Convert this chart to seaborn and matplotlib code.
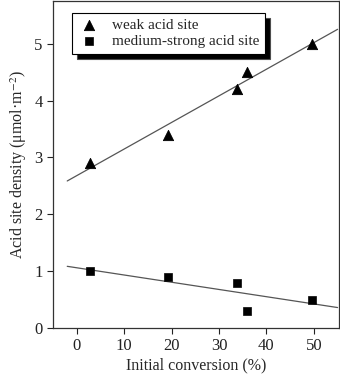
import numpy as np
import pandas as pd
import matplotlib
matplotlib.use("Agg")
import matplotlib.pyplot as plt
from matplotlib.patches import Shadow
import seaborn as sns

conversion = [2.7, 19.3, 33.7, 35.9, 49.6]
weak_density = [2.9, 3.4, 4.2, 4.5, 5.0]
medium_density = [1.0, 0.9, 0.8, 0.3, 0.5]

x_ticks = [0, 10, 20, 30, 40, 50]
y_ticks = [0, 1, 2, 3, 4, 5]

sns.set_style("ticks")
plt.rcParams["font.family"] = ["Liberation Serif", "DejaVu Serif"]
plt.rcParams["mathtext.fontset"] = "stix"

df = pd.DataFrame({"conversion": conversion,
                   "weak": weak_density,
                   "medium": medium_density})

fig = plt.figure(figsize=(3.4, 3.78), dpi=100)
ax = fig.add_axes([53 / 340, 50 / 378, 286 / 340, 327 / 378])

# fitted lines span -2 .. 55
ax.set_xlim(-2, 55)
line_kws = {"color": "#555555", "lw": 0.9}
sns.regplot(data=df, x="conversion", y="weak", ci=None, truncate=False,
            scatter=False, line_kws=line_kws, ax=ax)
sns.regplot(data=df, x="conversion", y="medium", ci=None, truncate=False,
            scatter=False, line_kws=line_kws, ax=ax)

sns.scatterplot(data=df, x="conversion", y="weak", marker="^", s=55,
                color="black", edgecolor="black", ax=ax,
                label="weak acid site", zorder=3)
sns.scatterplot(data=df, x="conversion", y="medium", marker="s", s=36,
                color="black", edgecolor="black", ax=ax,
                label="medium-strong acid site", zorder=3)

ax.set_xlim(-5, 55.3)
ax.set_ylim(0, 5.75)
ax.set_xticks(x_ticks)
ax.set_yticks(y_ticks)
ax.tick_params(direction="out", length=4, width=0.8, labelsize=12, colors="#222222")
for s in ax.spines.values():
    s.set_linewidth(0.9)
    s.set_color("#333333")

ax.set_xlabel("Initial conversion (%)", fontsize=11.5, labelpad=2)
ax.set_ylabel("Acid site density (μmol·m$^{-2}$)", fontsize=11.5, labelpad=4)

leg = ax.legend(loc="upper left", bbox_to_anchor=(0.066, 0.962), frameon=True,
                fancybox=False, shadow=False, framealpha=1,
                fontsize=11, handletextpad=0.7, borderpad=0.35,
                labelspacing=0.15, handlelength=1.6, borderaxespad=0)
leg.get_frame().set_edgecolor("black")
leg.get_frame().set_linewidth(0.8)

# thicker drop shadow under the legend box
shadow = Shadow(leg.legendPatch, 3.6, -3.6, facecolor="black", alpha=1)
shadow.set_zorder(leg.get_zorder() - 0.1)
ax.add_artist(shadow)

fig.canvas.draw()
fig.savefig("out.png", dpi=100)
